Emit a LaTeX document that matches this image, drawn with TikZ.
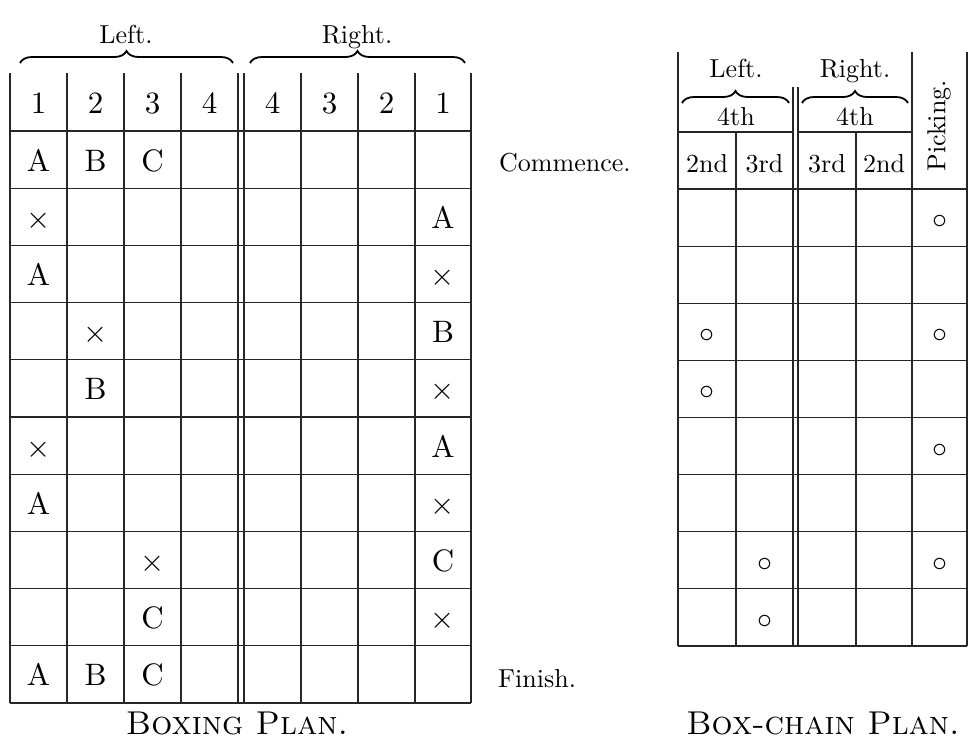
\RequirePackage{fix-cm}
\documentclass[tikz,border=0pt]{standalone}
\usepackage{fontspec}
\setmainfont{lmroman10-regular.otf}[SmallCapsFont=lmromancaps10-regular.otf]
\usetikzlibrary{decorations.pathreplacing}
\begin{document}
\begin{tikzpicture}[x=1pt,y=-1pt,
  grid/.style={line width=1.1pt, draw=black!85},
  cell/.style={font=\fontsize{31}{35}\selectfont, inner sep=0pt, anchor=base},
  lbl/.style={font=\fontsize{26}{30}\selectfont, inner sep=0pt, anchor=base},
  dot/.style={font=\fontsize{30}{34}\selectfont, inner sep=0pt, anchor=base},
  captxt/.style={font=\fontsize{33}{37}\selectfont, inner sep=0pt, anchor=base},
  brc/.style={decorate, decoration={brace, amplitude=12pt}, line width=1.8pt},
]
\useasboundingbox (0,0) rectangle (974,740);

% ---------------- Boxing plan ----------------
\foreach \x in {10,67,124,181,238,244,301,358,415,471}
  \draw[grid] (\x,73) -- (\x,703);
\foreach \k in {0,...,10}
  \draw[grid] (10,{131+57.2*\k}) -- (471,{131+57.2*\k});

\node[lbl] (leftA) at (126,43) {Left.};
\node[lbl] (rightA) at (357,43) {Right.};
\coordinate (lbA) at (20,63);  \coordinate (lbB) at (233,63);
\coordinate (rbA) at (250,63); \coordinate (rbB) at (465,63);
\draw[brc] (lbA) -- (lbB);
\draw[brc] (rbA) -- (rbB);

\foreach \t/\x [count=\i] in {1/38.5,2/95.5,3/152.5,4/209.5,4/272.5,3/329.5,2/386.5,1/443}
  \node[cell] (hd\i) at (\x,113.5) {\t};

\newcommand\bx[4]{\node[cell] (#1) at (#2,{131+57.2*(#3-0.5)+11.5}) {#4};}
\bx{r1a}{38.5}{1}{A} \bx{r1b}{95.5}{1}{B} \bx{r1c}{152.5}{1}{C}
\bx{r2a}{38.5}{2}{$\times$} \bx{r2r}{443}{2}{A}
\bx{r3a}{38.5}{3}{A} \bx{r3r}{443}{3}{$\times$}
\bx{r4b}{95.5}{4}{$\times$} \bx{r4r}{443}{4}{B}
\bx{r5b}{95.5}{5}{B} \bx{r5r}{443}{5}{$\times$}
\bx{r6a}{38.5}{6}{$\times$} \bx{r6r}{443}{6}{A}
\bx{r7a}{38.5}{7}{A} \bx{r7r}{443}{7}{$\times$}
\bx{r8c}{152.5}{8}{$\times$} \bx{r8r}{443}{8}{C}
\bx{r9c}{152.5}{9}{C} \bx{r9r}{443}{9}{$\times$}
\bx{r10a}{38.5}{10}{A} \bx{r10b}{95.5}{10}{B} \bx{r10c}{152.5}{10}{C}

\node[lbl, anchor=base west] (commence) at (499,171) {Commence.};
\node[lbl, anchor=base west] (finish) at (498,687) {Finish.};

\node[captxt] (capA) at (237,734) {\textsc{Boxing Plan.}};

% ---------------- Box-chain plan ----------------
\draw[grid] (678,52) -- (678,646);
\draw[grid] (912,52) -- (912,646);
\draw[grid] (967,52) -- (967,646);
\draw[grid] (793,87) -- (793,646);
\draw[grid] (798,87) -- (798,646);
\draw[grid] (736,132) -- (736,646);
\draw[grid] (856,132) -- (856,646);
\draw[grid] (678,132) -- (793,132);
\draw[grid] (798,132) -- (912,132);
\foreach \k in {0,...,8}
  \draw[grid] (678,{189+57.125*\k}) -- (967,{189+57.125*\k});

\node[lbl] (leftB) at (736,77) {Left.};
\node[lbl] (rightB) at (855,77) {Right.};
\coordinate (lcA) at (682,103); \coordinate (lcB) at (789,103);
\coordinate (rcA) at (802,103); \coordinate (rcB) at (908,103);
\draw[brc] (lcA) -- (lcB);
\draw[brc] (rcA) -- (rcB);
\node[lbl] (fourL) at (736,125) {4th};
\node[lbl] (fourR) at (855,125) {4th};
\node[lbl] (secL) at (707,172) {2nd};
\node[lbl] (thrL) at (764.5,172) {3rd};
\node[lbl] (thrR) at (827,172) {3rd};
\node[lbl] (secR) at (884,172) {2nd};
\node[lbl, anchor=center, rotate=90] (picking) at (939,126) {Picking.};

\newcommand\bc[4]{\node[dot] (#1) at (#2,{189+57.125*(#3-0.5)+11}) {$\circ$};}
\bc{p1}{939.5}{1}{}
\bc{c3a}{707}{3}{} \bc{p3}{939.5}{3}{}
\bc{c4a}{707}{4}{}
\bc{p5}{939.5}{5}{}
\bc{c7b}{764.5}{7}{} \bc{p7}{939.5}{7}{}
\bc{c8b}{764.5}{8}{}

\node[captxt] (capB) at (823,734) {\textsc{Box-chain Plan.}};
\end{tikzpicture}
\end{document}
